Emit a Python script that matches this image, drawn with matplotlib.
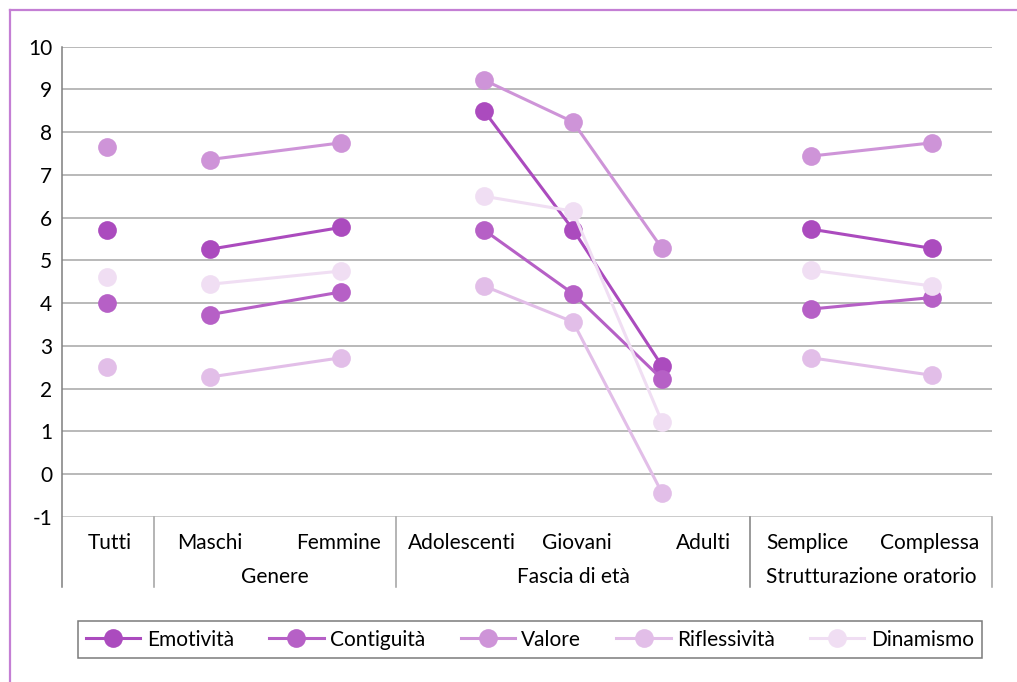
import numpy as np
import matplotlib
matplotlib.use("Agg")
import matplotlib.pyplot as plt
from matplotlib.lines import Line2D

plt.rcParams['font.family'] = ['Lato', 'DejaVu Sans']

# categories and groups
categories = ["Tutti", "Maschi", "Femmine", "Adolescenti", "Giovani", "Adulti",
              "Semplice", "Complessa"]
groups = ["", "Genere", "Fascia di età", "Strutturazione oratorio"]
group_of = [0, 1, 1, 2, 2, 2, 3, 3]

series = ["Emotività", "Contiguità", "Valore", "Riflessività", "Dinamismo"]
emotivita = [5.71, 5.26, 5.77, 8.50, 5.72, 2.53, 5.73, 5.28]
contiguita = [3.99, 3.73, 4.26, 5.71, 4.22, 2.22, 3.86, 4.13]
valore = [7.66, 7.36, 7.75, 9.22, 8.24, 5.28, 7.44, 7.75]
riflessivita = [2.51, 2.27, 2.72, 4.40, 3.56, -0.44, 2.72, 2.31]
dinamismo = [4.61, 4.44, 4.75, 6.50, 6.15, 1.22, 4.77, 4.40]
values = [emotivita, contiguita, valore, riflessivita, dinamismo]
colors = ["#AB4BBE", "#B660C6", "#CE94D8", "#E2BEE8", "#F0DEF3"]

# layout of the category axis (pixel-like units across the plot width)
xpos = [45, 148, 279, 422, 511, 600, 749, 870]
label_x = [48, 148, 276, 400, 515, 641, 745, 868]
dividers = [0, 92, 334, 688, 930]

W, H = 1017, 682
fs = 15
fig = plt.figure(figsize=(W / 100, H / 100), dpi=100)
ax = fig.add_axes([62 / W, 1 - 516.7 / H, 930 / W, 470 / H])
ax.set_xlim(0, 930)
ax.set_ylim(-1, 10)

for s in ax.spines.values():
    s.set_visible(False)

for v in range(-1, 11):
    ax.axhline(v, color="#A6A6A6" if v > -1 else "#BDBDBD", lw=1.1, zorder=1)
ax.set_yticks(range(-1, 11))
ax.set_yticklabels([str(v) for v in range(-1, 11)])
ax.tick_params(axis="y", length=0, pad=7, labelsize=fs)
ax.set_xticks([])

# divider lines of the category axis
for i, d in enumerate(dividers):
    top = 1.0 if d == 0 else 0.0
    ax.plot([d, d], [top, -0.149], transform=ax.get_xaxis_transform(),
            color="#7F7F7F" if i in (0, 3) else "#A0A0A0", lw=1.1, clip_on=False, zorder=2)

# series, one line per group
for name, vals, col in zip(series, values, colors):
    for g in range(len(groups)):
        idx = [i for i in range(len(categories)) if group_of[i] == g]
        ax.plot([xpos[i] for i in idx], [vals[i] for i in idx], color=col, lw=2.2,
                marker="o", markersize=13.5, markeredgewidth=0, zorder=3, clip_on=False)

# category labels
for x, c in zip(label_x, categories):
    ax.text(x, -0.056, c, transform=ax.get_xaxis_transform(), ha="center", va="center",
            fontsize=fs)
for g, name in enumerate(groups):
    if not name:
        continue
    ax.text((dividers[g] + dividers[g + 1]) / 2, -0.128, name,
            transform=ax.get_xaxis_transform(), ha="center", va="center", fontsize=fs)

# legend
handles = [Line2D([0], [0], color=c, lw=2.2, marker="o", markersize=13.5,
                  markeredgewidth=0) for c in colors]
leg = fig.legend(handles, series, loc="center", ncol=5, mode="expand",
                 bbox_to_anchor=(78 / W, 1 - 661 / H, 904 / W, 43 / H),
                 fontsize=fs, frameon=True, fancybox=False, handlelength=2.6,
                 handletextpad=0.3, borderaxespad=0, borderpad=0.4)
leg.get_frame().set_edgecolor("#595959")
leg.get_frame().set_linewidth(1.1)

# outer frame
fig.add_artist(Line2D([10 / W, 1], [1 - 10 / H, 1 - 10 / H], color="#C47FD4", lw=1.6))
fig.add_artist(Line2D([10 / W, 10 / W], [0, 1 - 10 / H], color="#C47FD4", lw=1.6))

fig.savefig("out.png", dpi=100)
